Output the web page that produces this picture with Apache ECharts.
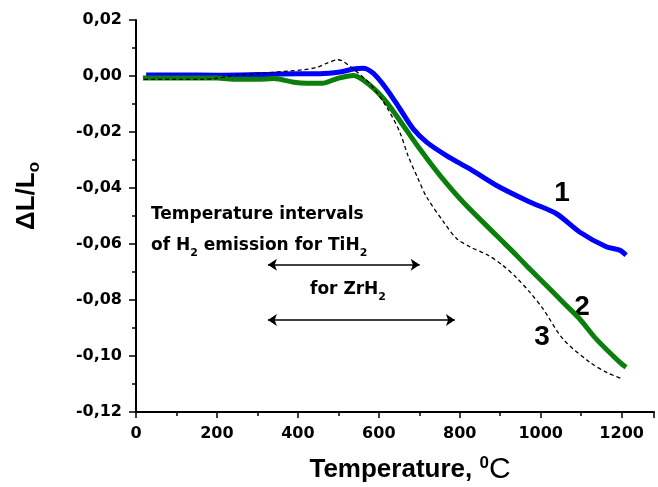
<!DOCTYPE html>
<html>
<head>
<meta charset="utf-8">
<script src="https://cdn.jsdelivr.net/npm/echarts@6/dist/echarts.min.js"></script>
<style>
  html, body { margin: 0; padding: 0; background: #fff; }
  #main { width: 658px; height: 487px; }
</style>
</head>
<body>
<div id="main"></div>
<script>
// curve 1 (blue)
const temp1 = [25, 100, 200, 300, 400, 454, 504, 537, 561, 586, 619, 652, 685, 718, 767, 825, 891, 973, 1039, 1096, 1162, 1195, 1211]
const dl1 = [0.0004, 0.0004, 0.0003, 0.0005, 0.0008, 0.0008, 0.0014, 0.0025, 0.0028, 0.0010, -0.0046, -0.0117, -0.0189, -0.0236, -0.0284, -0.0332, -0.0391, -0.0450, -0.0492, -0.0557, -0.0610, -0.0622, -0.0640]
// curve 2 (green)
const temp2 = [17, 100, 200, 250, 300, 340, 390, 420, 460, 495, 537, 578, 619, 660, 701, 751, 808, 891, 940, 973, 1014, 1055, 1096, 1137, 1195, 1211]
const dl2 = [-0.0007, -0.0007, -0.0007, -0.0012, -0.0012, -0.0009, -0.0022, -0.0026, -0.0026, -0.0010, 0.0002, -0.0033, -0.0093, -0.0176, -0.0260, -0.0355, -0.0450, -0.0570, -0.0640, -0.0689, -0.0748, -0.0808, -0.0867, -0.0939, -0.1022, -0.1040]
// curve 3 (dashed)
const temp3 = [20, 100, 158, 200, 249, 300, 338, 380, 412, 447, 472, 499, 537, 578, 619, 652, 672, 697, 718, 763, 792, 825, 870, 907, 940, 973, 1006, 1055, 1121, 1165, 1203]
const dl3 = [-0.0012, -0.0012, -0.0012, -0.0008, 0.0004, 0.0008, 0.0013, 0.0018, 0.0022, 0.0031, 0.0046, 0.0058, 0.0025, -0.0028, -0.0110, -0.0201, -0.0284, -0.0367, -0.0432, -0.0527, -0.0580, -0.0610, -0.0640, -0.0677, -0.0720, -0.0772, -0.0832, -0.0939, -0.1022, -0.1060, -0.1082]

// H2 emission intervals, degC
const tiRange = [326, 701]
const zrRange = [326, 788]

const zip = (xs, ys) => xs.map((x, i) => [x, ys[i]])
const tiLevel = -0.0674
const zrLevel = -0.0871

var myChart = echarts.init(document.getElementById('main'))

const tickFont = { fontFamily: 'DejaVu Sans', fontWeight: 'bold', color: '#000' }

myChart.setOption({
  animation: false,
  grid: { left: 136, right: 4, top: 20, bottom: 75 },
  xAxis: {
    type: 'value',
    min: 0,
    max: 1280,
    interval: 200,
    splitLine: { show: false },
    axisLine: { onZero: false, lineStyle: { color: '#000', width: 2 } },
    axisTick: { length: 6, lineStyle: { color: '#000', width: 1.5 } },
    minorTick: { show: true, splitNumber: 2, length: 4, lineStyle: { color: '#000', width: 1.5 } },
    axisLabel: Object.assign({ fontSize: 16, margin: 14, showMaxLabel: false, formatter: v => String(v) }, tickFont)
  },
  yAxis: {
    type: 'value',
    min: -0.12,
    max: 0.02,
    interval: 0.02,
    splitLine: { show: false },
    axisLine: { show: true, onZero: false, lineStyle: { color: '#000', width: 2 } },
    axisTick: { show: true, length: 7, lineStyle: { color: '#000', width: 1.5 } },
    minorTick: { show: true, splitNumber: 2, length: 4, lineStyle: { color: '#000', width: 1.5 } },
    axisLabel: Object.assign({
      fontSize: 16,
      margin: 14,
      formatter: v => (Math.abs(v) < 1e-9 ? 0 : v).toFixed(2).replace('.', ',')
    }, tickFont)
  },
  series: [
    {
      type: 'line', data: zip(temp3, dl3), smooth: 0.3, symbol: 'none', z: 3,
      lineStyle: { color: '#000', width: 1.3, type: [4, 3] },
      markLine: {
        silent: true,
        symbol: ['arrow', 'arrow'],
        symbolSize: [9, 9],
        label: { show: false },
        lineStyle: { color: '#000', width: 1.5, type: 'solid' },
        data: [
          [{ coord: [tiRange[0], tiLevel] }, { coord: [tiRange[1], tiLevel] }],
          [{ coord: [zrRange[0], zrLevel] }, { coord: [zrRange[1], zrLevel] }]
        ]
      }
    },
    {
      type: 'line', data: zip(temp1, dl1), smooth: 0.3, symbol: 'none', z: 2,
      lineStyle: { color: '#0000ff', width: 5 }
    },
    {
      type: 'line', data: zip(temp2, dl2), smooth: 0.3, symbol: 'none', z: 2,
      lineStyle: { color: '#0b7f0b', width: 5 }
    }
  ],
  graphic: [
    {
      type: 'text', x: 27, y: 196, rotation: Math.PI / 2,
      style: {
        text: '{a|ΔL/L}{b|o}',
        align: 'center', verticalAlign: 'middle',
        rich: {
          a: { fontFamily: 'Liberation Sans', fontWeight: 'bold', fontSize: 26, fill: '#000' },
          b: { fontFamily: 'Liberation Sans', fontWeight: 'bold', fontSize: 17, fill: '#000', padding: [14, 0, 0, 0] }
        }
      }
    },
    {
      type: 'text', x: 410, y: 470,
      style: {
        text: '{a|Temperature, }{s|0}{c|C}',
        align: 'center', verticalAlign: 'middle',
        rich: {
          a: { fontFamily: 'Liberation Sans', fontWeight: 'bold', fontSize: 26, fill: '#000' },
          s: { fontFamily: 'Liberation Sans', fontWeight: 'bold', fontSize: 17, fill: '#000', padding: [0, 0, 14, 0] },
          c: { fontFamily: 'Liberation Sans', fontSize: 30, fill: '#000' }
        }
      }
    },
    {
      type: 'text', x: 151, y: 215,
      style: {
        text: 'Temperature intervals',
        verticalAlign: 'middle',
        font: 'bold 17px "DejaVu Sans"', fill: '#000'
      }
    },
    {
      type: 'text', x: 151, y: 246,
      style: {
        text: '{a|of H}{b|2}{a| emission for TiH}{b|2}',
        verticalAlign: 'middle',
        rich: {
          a: { fontFamily: 'DejaVu Sans', fontWeight: 'bold', fontSize: 17, fill: '#000' },
          b: { fontFamily: 'DejaVu Sans', fontWeight: 'bold', fontSize: 11, fill: '#000', padding: [14, 0, 0, 0] }
        }
      }
    },
    {
      type: 'text', x: 310, y: 290,
      style: {
        text: '{a|for ZrH}{b|2}',
        verticalAlign: 'middle',
        rich: {
          a: { fontFamily: 'DejaVu Sans', fontWeight: 'bold', fontSize: 17, fill: '#000' },
          b: { fontFamily: 'DejaVu Sans', fontWeight: 'bold', fontSize: 11, fill: '#000', padding: [14, 0, 0, 0] }
        }
      }
    },
    { type: 'text', x: 562, y: 193, style: { text: '1', align: 'center', verticalAlign: 'middle', font: 'bold 28px "Liberation Sans"', fill: '#000' } },
    { type: 'text', x: 582, y: 307, style: { text: '2', align: 'center', verticalAlign: 'middle', font: 'bold 28px "Liberation Sans"', fill: '#000' } },
    { type: 'text', x: 542, y: 337, style: { text: '3', align: 'center', verticalAlign: 'middle', font: 'bold 28px "Liberation Sans"', fill: '#000' } }
  ]
})
</script>
</body>
</html>
